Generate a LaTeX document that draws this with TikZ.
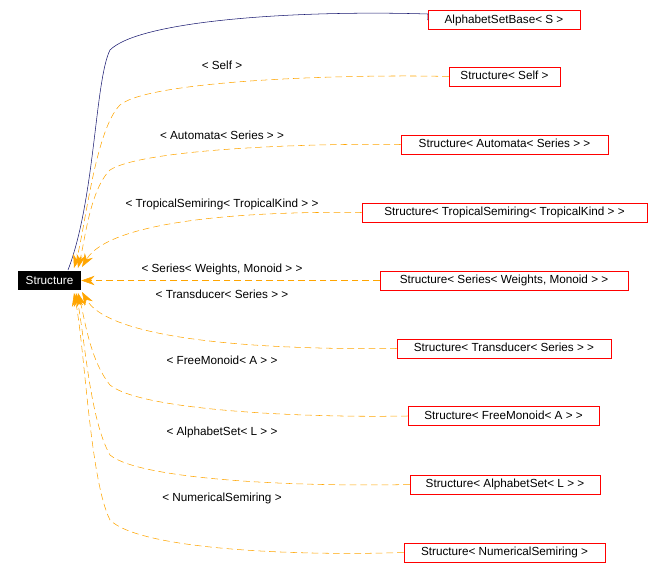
\documentclass[tikz,border=0pt]{standalone}
\usepackage{fontspec}
\setmainfont{Liberation Sans}
\usetikzlibrary{arrows.meta}
\definecolor{dor}{RGB}{255,165,0}
\definecolor{dblue}{RGB}{25,25,112}
\begin{document}
\begin{tikzpicture}[x=0.75pt,y=-0.75pt,
  font=\fontsize{8.8}{10}\selectfont,
  box/.style={draw=red,fill=white,inner sep=0pt,minimum height=14.25pt,text height=6.5pt,text depth=1.5pt},
  lab/.style={inner sep=0pt},
  dep/.style={draw=dor,dashed,dash pattern=on 5pt off 3pt,-{Stealth[length=10pt,width=7pt,fill=dor]}},
  inh/.style={draw=dblue}]
\useasboundingbox (0,0) rectangle (662,582);
\node[fill=black,text=white,inner sep=0pt,minimum width=47.25pt,minimum height=14.25pt] (s) at (49.5,280.5) {Structure};
\node[box,minimum width=114pt] (a) at (504,20) {AlphabetSetBase< S >};
\node[box,minimum width=83.25pt] (b) at (504.5,76.5) {Structure< Self >};
\node[box,minimum width=155.25pt] (c) at (504.5,144.5) {Structure< Automata< Series > >};
\node[box,minimum width=213.75pt] (d) at (504.5,212.5) {Structure< TropicalSemiring< TropicalKind > >};
\node[box,minimum width=186pt] (e) at (504,280.5) {Structure< Series< Weights, Monoid > >};
\node[box,minimum width=160.5pt] (f) at (504,348.5) {Structure< Transducer< Series > >};
\node[box,minimum width=143.25pt] (g) at (503.5,416) {Structure< FreeMonoid< A > >};
\node[box,minimum width=142.5pt] (h) at (505,484.5) {Structure< AlphabetSet< L > >};
\node[box,minimum width=150.75pt] (i) at (504.5,552.5) {Structure< NumericalSemiring >};
\coordinate (st) at (68,270);
\draw[inh] (a.west) -- (428,14) .. controls (300,10) and (140,20) .. (110,50) .. controls (95,80) and (95,200) .. (st);
\draw[dep] (b.west) .. controls (350,74) and (150,80) .. (120,105) .. controls (95,130) and (85,230) .. (74,268);
\draw[dep] (c.west) .. controls (300,143) and (140,150) .. (110,170) .. controls (90,190) and (85,240) .. (78,268);
\draw[dep] (d.west) .. controls (250,211) and (110,220) .. (82,267);
\draw[dep] (e.west) -- (s.east);
\draw[dep] (f.west) .. controls (260,350) and (110,340) .. (82,292);
\draw[dep] (g.west) .. controls (300,418) and (140,410) .. (110,385) .. controls (90,360) and (85,320) .. (78,293);
\draw[dep] (h.west) .. controls (300,487) and (140,480) .. (110,455) .. controls (90,420) and (85,340) .. (76,293);
\draw[dep] (i.west) .. controls (300,556) and (140,550) .. (110,520) .. controls (90,480) and (85,350) .. (74,293);
\node[lab] (lb) at (222,65) {< Self >};
\node[lab] (lc) at (222,135) {< Automata< Series > >};
\node[lab] (ld) at (222,204) {< TropicalSemiring< TropicalKind > >};
\node[lab] (le) at (222,269.5) {< Series< Weights, Monoid > >};
\node[lab] (lf) at (222,294) {< Transducer< Series > >};
\node[lab] (lg) at (222,360) {< FreeMonoid< A > >};
\node[lab] (lh) at (222,432) {< AlphabetSet< L > >};
\node[lab] (li) at (222,498) {< NumericalSemiring >};
\end{tikzpicture}
\end{document}
